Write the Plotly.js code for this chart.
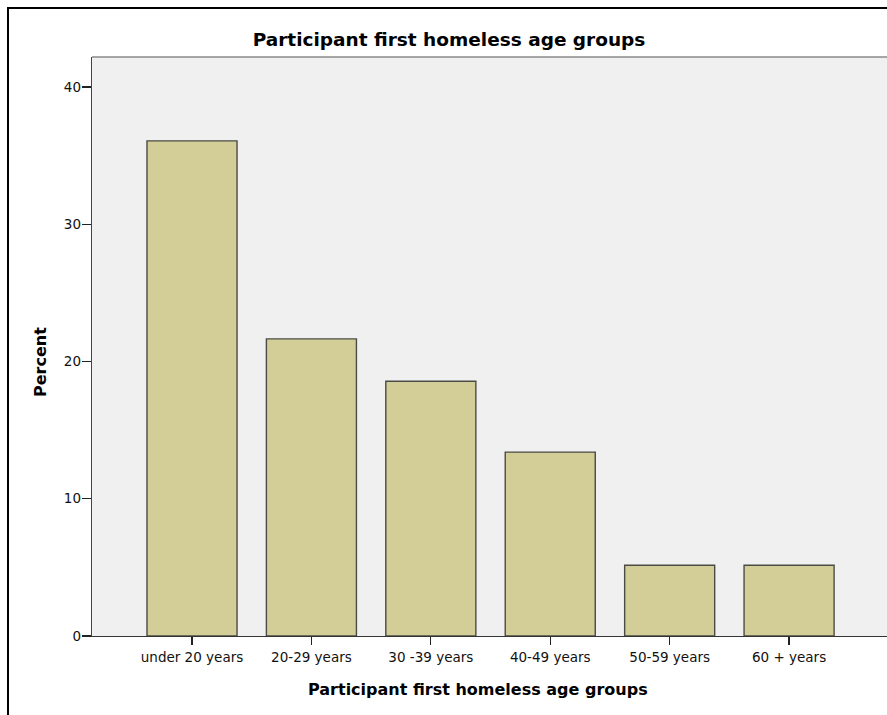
<!DOCTYPE html>
<html>
<head>
<meta charset="utf-8">
<script src="https://cdn.plot.ly/plotly-3.0.1.min.js"></script>
<style>
  html, body { margin: 0; padding: 0; background: #ffffff; }
  #chart { width: 887px; height: 715px; }
</style>
</head>
<body>
<div id="chart"></div>
<script>
// Data
const categories = ["under 20 years", "20-29 years", "30 -39 years", "40-49 years", "50-59 years", "60 + years"];
const percents = [36.08, 21.65, 18.56, 13.40, 5.15, 5.15];
const yTickValues = [0, 10, 20, 30, 40];
const chartTitle = "Participant first homeless age groups";
const xTitle = "Participant first homeless age groups";
const yTitle = "Percent";

const W = 887, H = 715;
const L = 92, R = 0, T = 57, B = 79;
const plotW = W - L - R, plotH = H - T - B;
function px2paperX(px) { return (px - L) / plotW; }
function px2paperY(py) { return (H - B - py) / plotH; }

const font = "DejaVu Sans, Verdana, sans-serif";

const trace = {
  type: "bar",
  x: categories.map((c, i) => i),
  y: percents,
  width: 0.754,
  marker: { color: "#d3ce98", line: { color: "#4b4b45", width: 1.4 } },
  hoverinfo: "skip"
};

const layout = {
  width: W, height: H,
  margin: { l: L, r: R, t: T, b: B, pad: 0 },
  paper_bgcolor: "#ffffff",
  plot_bgcolor: "#f0f0f0",
  showlegend: false,
  bargap: 0,
  title: {
    text: "<b>" + chartTitle + "</b>",
    font: { family: font, size: 18.5, color: "#000000" },
    xref: "container", yref: "container",
    x: 449 / W, xanchor: "center",
    y: 1 - 40 / H, yanchor: "middle"
  },
  xaxis: {
    range: [-0.8375, 5.82],
    tickmode: "array",
    tickvals: categories.map((c, i) => i),
    ticktext: categories,
    ticks: "outside", ticklen: 8, tickwidth: 1.3, tickcolor: "#222222",
    showline: true, linecolor: "#333333", linewidth: 1.3,
    showgrid: false, zeroline: false,
    tickfont: { family: font, size: 13.5, color: "#111111" },
    fixedrange: true
  },
  yaxis: {
    range: [0, 42.19],
    tickmode: "array",
    tickvals: yTickValues,
    ticktext: yTickValues.map(String),
    ticks: "outside", ticklen: 9, tickwidth: 1.3, tickcolor: "#222222",
    ticklabelstandoff: -2,
    showline: true, linecolor: "#444444", linewidth: 1.3,
    showgrid: false, zeroline: false,
    tickfont: { family: font, size: 13.5, color: "#111111" },
    fixedrange: true
  },
  annotations: [
    {
      text: "<b>" + xTitle + "</b>",
      xref: "paper", yref: "paper",
      x: px2paperX(478), y: px2paperY(690),
      xanchor: "center", yanchor: "middle",
      showarrow: false,
      font: { family: font, size: 16, color: "#000000" }
    },
    {
      text: "<b>" + yTitle + "</b>",
      xref: "paper", yref: "paper",
      x: px2paperX(40), y: px2paperY(362),
      xanchor: "center", yanchor: "middle",
      textangle: -90,
      showarrow: false,
      font: { family: font, size: 16, color: "#000000" }
    }
  ],
  shapes: [
    // outer frame (left and top visible)
    { type: "line", xref: "paper", yref: "paper",
      x0: px2paperX(8), x1: px2paperX(8), y0: px2paperY(7), y1: px2paperY(720),
      line: { color: "#000000", width: 2 } },
    { type: "line", xref: "paper", yref: "paper",
      x0: px2paperX(7), x1: px2paperX(900), y0: px2paperY(8), y1: px2paperY(8),
      line: { color: "#000000", width: 2 } },
    // top border of plot area
    { type: "line", xref: "paper", yref: "paper",
      x0: 0, x1: 1.02, y0: 1, y1: 1,
      line: { color: "#8a8a8a", width: 1.5 } }
  ]
};

Plotly.newPlot("chart", [trace], layout, { displayModeBar: false, staticPlot: true });
</script>
</body>
</html>
